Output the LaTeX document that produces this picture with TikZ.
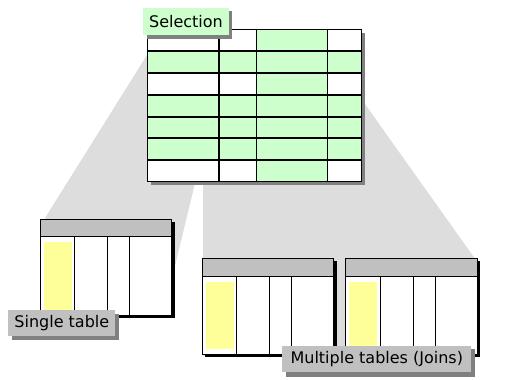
\documentclass[tikz,border=0pt]{standalone}
\usepackage{fontspec}
\setmainfont{DejaVu Sans}
\definecolor{selgreen}{HTML}{CCFFCC}
\definecolor{keyyellow}{HTML}{FFFF99}
\definecolor{hdrgray}{HTML}{C0C0C0}
\definecolor{wedgegray}{HTML}{DDDDDD}
\definecolor{shadowgray}{HTML}{808080}
\tikzset{
  wedge/.style={fill=wedgegray},
  gridline/.style={line width=1.2pt, line cap=rect},
  labeltext/.style={font=\fontsize{16}{19}\selectfont, inner sep=0pt, anchor=center},
  minitable/.pic={
    \fill[black] (3,3) rectangle (134.5,99);
    \fill[white] (0,0) rectangle (131.5,96);
    \fill[hdrgray] (0,0) rectangle (131.5,17.7);
    \fill[keyyellow] (3.7,23.3) rectangle (31.7,91);
    \draw[line width=0.9pt] (0,17.7) -- (131.5,17.7);
    \draw[line width=0.9pt] (34.5,17.7) -- (34.5,96);
    \draw[line width=0.9pt] (67.5,17.7) -- (67.5,96);
    \draw[line width=0.9pt] (89.5,17.7) -- (89.5,96);
    \draw[line width=0.9pt] (0,0) rectangle (131.5,96);
  }
}
\begin{document}
\begin{tikzpicture}[x=1pt,y=-1pt]
\useasboundingbox (0,0) rectangle (523,380);
% projection wedges
\fill[wedge] (152,47) -- (45,218) -- (100,260) -- (172.3,277) -- (197,175) -- cycle;
\fill[wedge] (203,175) -- (203,356) -- (476,356) -- (474.5,258) -- (358.5,95) -- cycle;
% top table
\fill[shadowgray] (150.5,32.5) rectangle (364.5,184.5);
\fill[white] (147.3,29.3) rectangle (361.7,181.7);
\fill[selgreen] (256.3,29.3) rectangle (327.7,181.7);
\foreach \ya/\yb in {51/73, 95/117, 117/138, 138/160}
  \fill[selgreen] (147.3,\ya) rectangle (361.7,\yb);
\foreach \yy in {51,73,95,117,138,160}
  \draw[gridline] (147.3,\yy) -- (361.7,\yy);
\foreach \xx in {219,256.3,327.7}
  \draw[gridline] (\xx,29.3) -- (\xx,181.7);
\draw[gridline] (147.3,29.3) rectangle (361.7,181.7);
% selection label
\fill[shadowgray] (146.8,11.2) rectangle (232.3,38.5);
\fill[selgreen] (143.3,7.7) rectangle (228.8,35);
\node[labeltext] (sel) at (186,21.3) {Selection};
% single table
\pic (single) at (40.3,219) {minitable};
\fill[shadowgray] (11.8,313.5) rectangle (119,340);
\fill[hdrgray] (8.3,310) rectangle (115.3,335.7);
\node[labeltext] (singlelbl) at (61.8,322.9) {Single table};
% multiple tables
\pic (multione) at (202.3,258.3) {minitable};
\pic (multitwo) at (345.7,258.3) {minitable};
\fill[shadowgray] (285.8,349.2) rectangle (475,376.7);
\fill[hdrgray] (282.3,345.7) rectangle (471.3,372.3);
\node[labeltext] (multilbl) at (376.8,359) {Multiple tables (Joins)};
\end{tikzpicture}
\end{document}
